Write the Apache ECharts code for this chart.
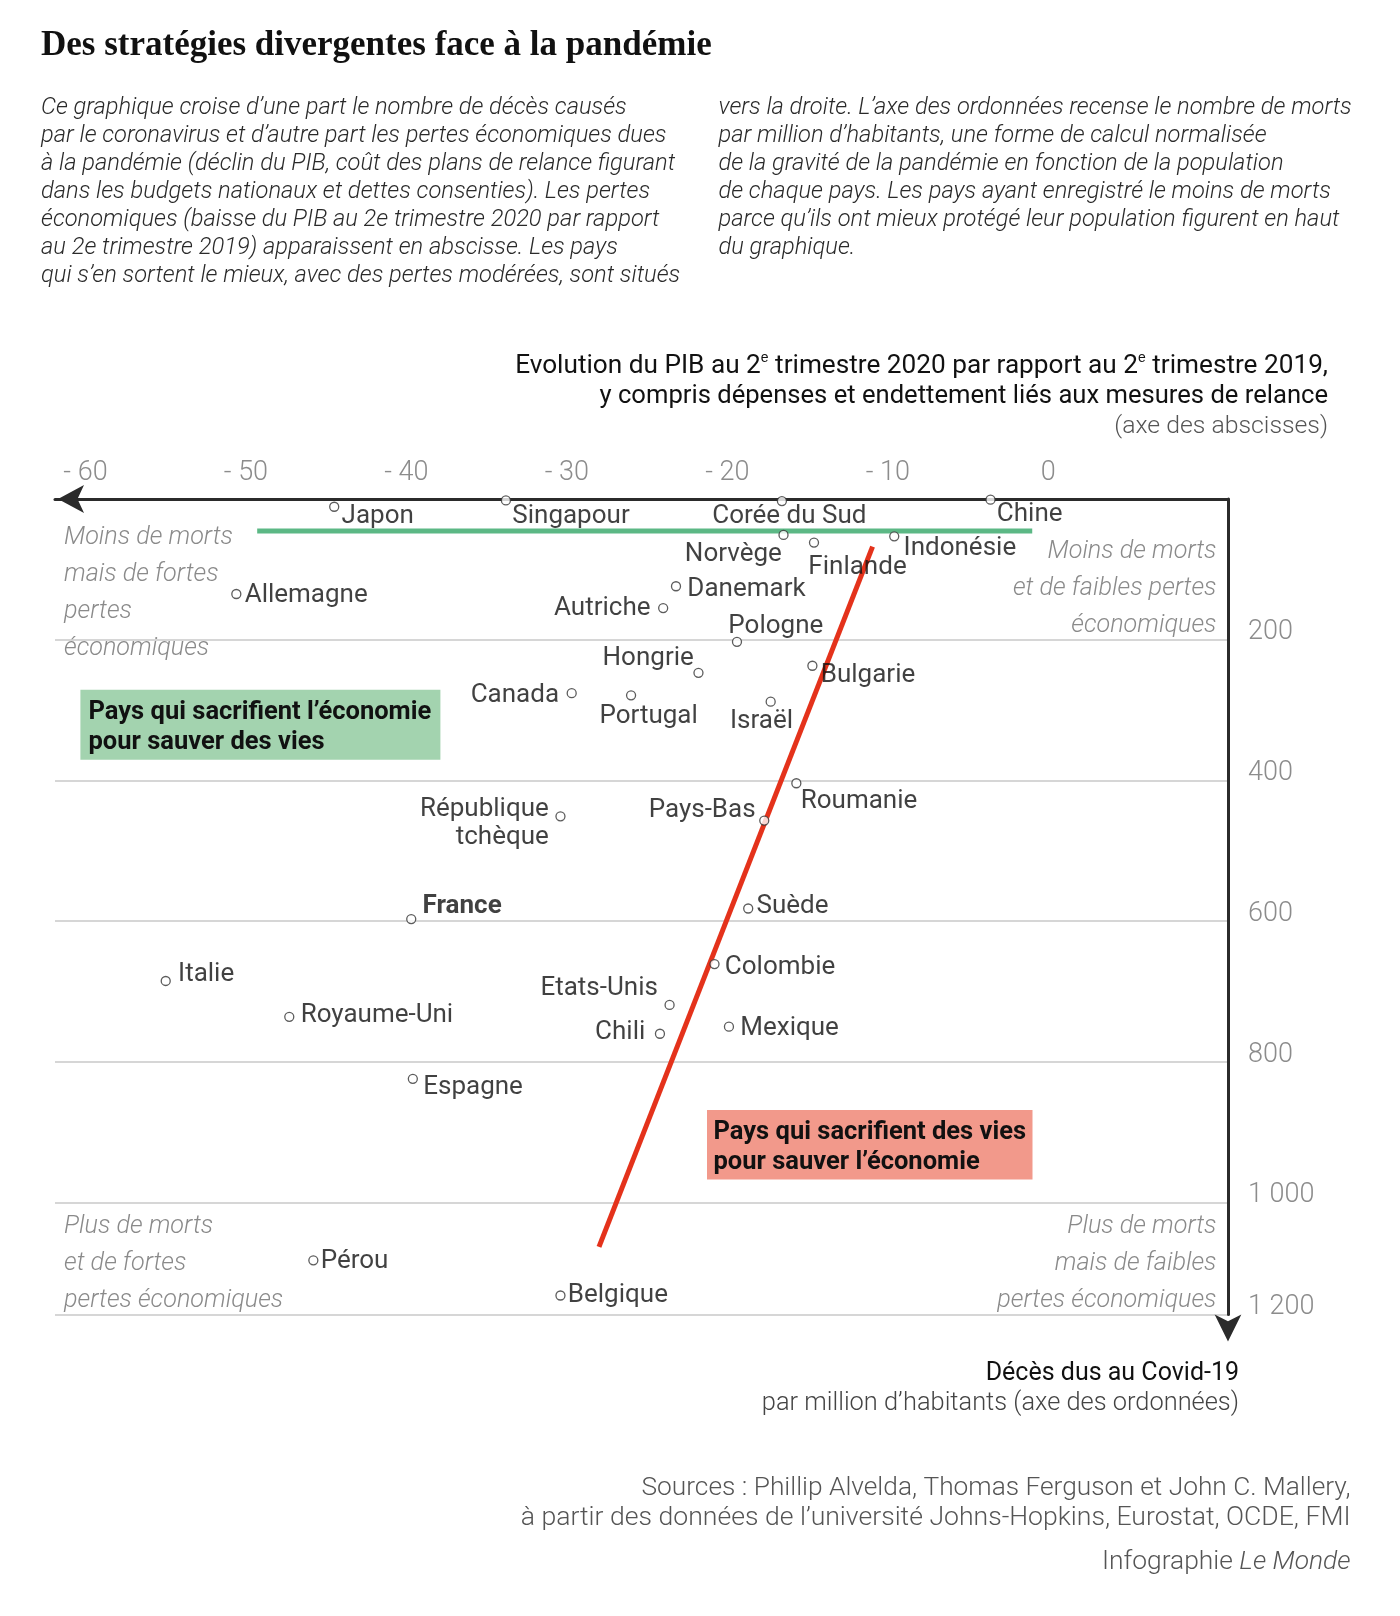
<!DOCTYPE html>
<html><head><meta charset="utf-8">
<script src="https://cdn.jsdelivr.net/npm/echarts@6/dist/echarts.min.js"></script>
<style>html,body{margin:0;padding:0;background:#fff}#chart{width:1400px;height:1616px}</style>
</head><body><div id="chart"></div>
<script>
// ---------- DATA ----------
const countries = ['Japon','Singapour','Corée du Sud','Chine','Norvège','Finlande','Indonésie','Allemagne','Danemark','Autriche','Pologne','Hongrie','Bulgarie','Canada','Portugal','Israël','Roumanie','République\ntchèque','Pays-Bas','France','Suède','Colombie','Italie','Etats-Unis','Royaume-Uni','Chili','Mexique','Espagne','Pérou','Belgique'];
const gdpChange = [-44.5,-33.8,-16.6,-3.6,-16.5,-14.6,-9.6,-50.6,-23.2,-24.0,-19.4,-21.8,-14.7,-29.7,-26.0,-17.3,-15.7,-30.4,-17.7,-39.7,-18.7,-20.8,-55.0,-23.6,-47.3,-24.2,-19.9,-39.6,-45.8,-30.4];
const deathsPerMillion = [11,2,3,1,51,62,53,135,124,155,203,247,237,276,279,288,404,451,457,597,582,661,685,719,736,760,750,824,1082,1132];
const xTickValues = [-60,-50,-40,-30,-20,-10,0];
const yTickValues = [200,400,600,800,1000];
const yBottomLabel = '1 200';
const greenLineX = [-49.3, -1.0];
const greenLineY = [45.5, 45.5];
const redLineX = [-10.95, -28.0];
const redLineY = [67.8, 1063];
const X_MIN = -61.9, X_MAX = 11.2, Y_MIN = 0, Y_MAX = 1159;

// ---------- STYLE ----------
const FONT = 'Roboto, "Noto Sans", sans-serif';
const SERIF = '"Liberation Serif", "DejaVu Serif", serif';
const TY = 2.5; // small vertical text correction
// label placement: [align, dx, dy] relative to the point centre (px)
const labelPlace = {
  'Japon':['left',8,7], 'Singapour':['left',7,14], 'Corée du Sud':['left',-69,13], 'Chine':['left',7,12],
  'Norvège':['right',-1,17.5], 'Finlande':['left',-5,23], 'Indonésie':['left',10,10], 'Allemagne':['left',9,-1],
  'Danemark':['left',12,1], 'Autriche':['right',-12,-2], 'Pologne':['left',-8,-17.5], 'Hongrie':['right',-4,-16.5],
  'Bulgarie':['left',9,7], 'Canada':['right',-12,0], 'Portugal':['left',-31,18.5], 'Israël':['left',-40,17.5],
  'Roumanie':['left',5,15.5], 'République\ntchèque':['right',-11,4.5], 'Pays-Bas':['right',-8,-12.5],
  'France':['left',12,-14.5], 'Suède':['left',9,-4], 'Colombie':['left',11,1], 'Italie':['left',13,-9],
  'Etats-Unis':['right',-11,-18.5], 'Royaume-Uni':['left',12,-4], 'Chili':['right',-14,-4], 'Mexique':['left',12,-1],
  'Espagne':['left',11,6], 'Pérou':['left',8,-1], 'Belgique':['left',8,-2]
};
const SYM = 9;

const scatterData = countries.map((c, i) => {
  const p = labelPlace[c];
  return {
    name: c,
    value: [gdpChange[i], deathsPerMillion[i]],
    label: {
      show: true, formatter: '{b}',
      position: [SYM/2 + p[1], SYM/2 + p[2] + 3],
      align: p[0], verticalAlign: 'middle',
      fontFamily: FONT, fontSize: 26, color: '#111', lineHeight: 28,
      fontWeight: c === 'France' ? 'bold' : 'normal'
    }
  };
});

function fmtNum(v) {
  const a = Math.abs(v);
  let s = a >= 1000 ? Math.floor(a/1000) + ' ' + String(a % 1000).padStart(3,'0') : String(a);
  return v < 0 ? '- ' + s : s;
}

const descLeft = [
  'Ce graphique croise d’une part le nombre de décès causés',
  'par le coronavirus et d’autre part les pertes économiques dues',
  'à la pandémie (déclin du PIB, coût des plans de relance figurant',
  'dans les budgets nationaux et dettes consenties). Les pertes',
  'économiques (baisse du PIB au 2e trimestre 2020 par rapport',
  'au 2e trimestre 2019) apparaissent en abscisse. Les pays',
  'qui s’en sortent le mieux, avec des pertes modérées, sont situés'
].join('\n');
const descRight = [
  'vers la droite. L’axe des ordonnées recense le nombre de morts',
  'par million d’habitants, une forme de calcul normalisée',
  'de la gravité de la pandémie en fonction de la population',
  'de chaque pays. Les pays ayant enregistré le moins de morts',
  'parce qu’ils ont mieux protégé leur population figurent en haut',
  'du graphique.'
].join('\n');

function txt(x, y, text, o) {
  return Object.assign({ type: 'text', x: x, y: y + TY, z: 20, silent: true,
    style: Object.assign({ text: text, fontFamily: FONT, fontSize: 24, fill: '#111', align: 'left', verticalAlign: 'middle' }, o || {}) });
}
const cornerStyle = { fontSize: 25.2, fontStyle: 'italic', fontWeight: 300, fill: '#8a8a8a', lineHeight: 37, verticalAlign: 'top' };
const supRich = { sup: { fontSize: 14, verticalAlign: 'top', lineHeight: 14 } };
const srcStyle = { align: 'right', fontSize: 26.4, fill: '#555', fontWeight: 300 };

const graphics = [
  txt(41, 43, 'Des stratégies divergentes face à la pandémie', { fontFamily: SERIF, fontSize: 35, fontWeight: 'bold', fill: '#111' }),
  txt(41, 92, descLeft, { fontSize: 23.7, fontStyle: 'italic', fontWeight: 300, fill: '#2a2a2a', lineHeight: 28, verticalAlign: 'top' }),
  txt(718.5, 92, descRight, { fontSize: 23.7, fontStyle: 'italic', fontWeight: 300, fill: '#2a2a2a', lineHeight: 28, verticalAlign: 'top' }),
  txt(1328, 364, 'Evolution du PIB au 2{sup|e} trimestre 2020 par rapport au 2{sup|e} trimestre 2019,', { align: 'right', fontSize: 26.2, lineHeight: 30, rich: supRich }),
  txt(1328, 394, 'y compris dépenses et endettement liés aux mesures de relance', { align: 'right', fontSize: 25.6 }),
  txt(1328, 424, '(axe des abscisses)', { align: 'right', fontSize: 24.8, fill: '#555', fontWeight: 300 }),
  txt(1239, 1371, 'Décès dus au Covid-19', { align: 'right', fontSize: 25 }),
  txt(1239, 1401, 'par million d’habitants (axe des ordonnées)', { align: 'right', fontSize: 25.4, fill: '#444', fontWeight: 300 }),
  txt(1350.5, 1485.6, 'Sources : Phillip Alvelda, Thomas Ferguson et John C. Mallery,', Object.assign({}, srcStyle, { fontSize: 26.3 })),
  txt(1350.5, 1515.4, 'à partir des données de l’université Johns-Hopkins, Eurostat, OCDE, FMI', Object.assign({}, srcStyle, { fontSize: 26.6 })),
  txt(1350.5, 1559.8, 'Infographie {i|Le Monde}', Object.assign({}, srcStyle, { rich: { i: { fontStyle: 'italic', fontSize: 26.4, fontWeight: 300, fill: '#555', fontFamily: FONT } } })),
  txt(64, 516.5, 'Moins de morts\nmais de fortes\npertes\néconomiques', cornerStyle),
  txt(1216.5, 531, 'Moins de morts\net de faibles pertes\néconomiques', Object.assign({}, cornerStyle, { align: 'right' })),
  txt(64, 1206, 'Plus de morts\net de fortes\npertes économiques', cornerStyle),
  txt(1216.5, 1206, 'Plus de morts\nmais de faibles\npertes économiques', Object.assign({}, cornerStyle, { align: 'right' })),
  { type: 'rect', z: 15, silent: true, shape: { x: 80.4, y: 689.7, width: 360, height: 70 }, style: { fill: '#a3d3af' } },
  txt(88.5, 695, 'Pays qui sacrifient l’économie\npour sauver des vies', { fontSize: 25.5, fontWeight: 'bold', lineHeight: 30, fill: '#111', verticalAlign: 'top' }),
  { type: 'rect', z: 15, silent: true, shape: { x: 707, y: 1110, width: 325.5, height: 69.5 }, style: { fill: '#f2998b' } },
  txt(713.5, 1115, 'Pays qui sacrifient des vies\npour sauver l’économie', { fontSize: 25.5, fontWeight: 'bold', lineHeight: 30, fill: '#111', verticalAlign: 'top' })
];

const chart = echarts.init(document.getElementById('chart'), null, { renderer: 'canvas' });
chart.setOption({
  animation: false,
  backgroundColor: '#fff',
  grid: { left: 55, right: 172, top: 499, bottom: 301.5, containLabel: false },
  xAxis: {
    type: 'value', position: 'top', min: X_MIN, max: X_MAX,
    axisLine: { show: true, onZero: false, lineStyle: { color: '#2b2b2b', width: 3 },
      symbol: ['arrow', 'none'], symbolSize: [21, 26], symbolOffset: [3, 0] },
    axisTick: { show: false },
    splitLine: { show: false },
    axisLabel: { customValues: xTickValues, formatter: v => fmtNum(v), margin: 12,
      fontFamily: FONT, fontSize: 27, fontWeight: 300, color: '#8c8c8c' }
  },
  yAxis: {
    type: 'value', position: 'right', inverse: true, min: Y_MIN, max: Y_MAX, interval: 200,
    axisLine: { show: true, onZero: false, lineStyle: { color: '#2b2b2b', width: 3 },
      symbol: ['arrow', 'none'], symbolSize: [20, 27], symbolOffset: [-27, 0] },
    axisTick: { show: false },
    splitLine: { show: true, lineStyle: { color: '#c9c9c9', width: 1.5 } },
    axisLabel: { formatter: v => (v === 0 ? '' : (v >= Y_MAX - 0.5 ? yBottomLabel : (yTickValues.indexOf(v) >= 0 ? fmtNum(v) : ''))),
      margin: 20, align: 'left', verticalAlign: 'bottom', lineHeight: 14,
      fontFamily: FONT, fontSize: 27, fontWeight: 300, color: '#8c8c8c' }
  },
  series: [
    { type: 'line', data: greenLineX.map((x, i) => [x, greenLineY[i]]), symbol: 'none', silent: true, z: 3,
      lineStyle: { color: '#5cb885', width: 5 } },
    { type: 'line', data: redLineX.map((x, i) => [x, redLineY[i]]), symbol: 'none', silent: true, z: 3,
      lineStyle: { color: '#e4321b', width: 5 } },
    { type: 'scatter', data: scatterData, symbol: 'circle', symbolSize: SYM, z: 5,
      itemStyle: { color: '#fff', borderColor: '#333', borderWidth: 1.3 } }
  ],
  graphic: graphics
});
</script></body></html>
